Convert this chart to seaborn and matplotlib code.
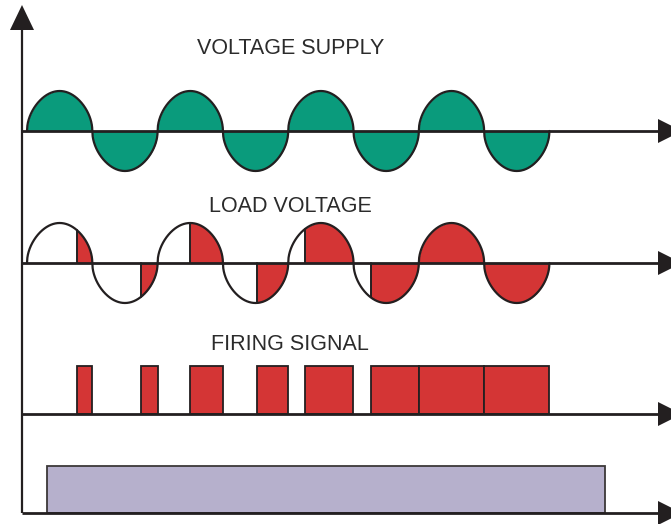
import numpy as np
import pandas as pd
import matplotlib
matplotlib.use("Agg")
import matplotlib.pyplot as plt
from matplotlib.patches import Polygon
import seaborn as sns

# ---------------- data ----------------
half_cycles = np.arange(8)                       # 4 full mains cycles
firing_angles = [138, 135, 90, 94, 47, 47, 0, 0]  # delay (deg) inside each half-cycle
row_labels = ["VOLTAGE SUPPLY", "LOAD VOLTAGE", "FIRING SIGNAL"]
amplitude = 40
pulse_height = 48
enable_window = [55, 1593]                        # deg
enable_level = 47

# ---------------- style ----------------
sns.set_theme(style="white")
plt.rcParams["font.family"] = ["Liberation Sans", "DejaVu Sans"]
dark = "#231f20"
green = "#0a9b7c"
red = "#d43535"
lavender = "#b6b0cc"
shape = 0.5   # drawing style of the hand-drawn (rounded) sine lobes

W, H = 671, 524
px = 180 / 65.3                      # degrees per pixel
x0 = -27 * px
fig = plt.figure(figsize=(W / 100, H / 100), dpi=100)
ax = fig.add_axes([0, 0, 1, 1])
ax.set_xlim(x0, x0 + W * px)
ax.set_ylim(0, H)
ax.axis("off")

base_supply, base_load, base_fire, base_bottom = 393, 261, 110, 11
axis_x = x0 + 22 * px
arrow_x = x0 + 658 * px


def lobe(th):
    s = np.sin(np.radians(th))
    return amplitude * np.sign(s) * np.abs(s) ** shape


# axes with arrows
ax.plot([axis_x, axis_x], [base_bottom, 500], color=dark, lw=1.6, solid_capstyle="butt")
ax.add_patch(Polygon([[axis_x - 12 * px, 494], [axis_x + 12 * px, 494], [axis_x, 519]],
                     closed=True, color=dark, lw=0))
for b in (base_supply, base_load, base_fire, base_bottom):
    ax.plot([axis_x, arrow_x + 2 * px], [b, b], color=dark, lw=2.0, solid_capstyle="butt", zorder=4)
    ax.add_patch(Polygon([[arrow_x, b - 12], [arrow_x, b + 12], [arrow_x + 24 * px, b]],
                         closed=True, color=dark, lw=0, zorder=4))

# supply voltage
theta = np.linspace(0, 180 * len(half_cycles), 2881)
wave = lobe(theta)
ax.fill_between(theta, base_supply, base_supply + wave, color=green, lw=0, zorder=2)
sns.lineplot(x=theta, y=base_supply + wave, ax=ax, color=dark, lw=1.6,
             sort=False, estimator=None, zorder=3)

# load voltage
for k, f in zip(half_cycles, firing_angles):
    th = np.linspace(k * 180 + f, (k + 1) * 180, 400)
    v = lobe(th)
    ax.fill_between(th, base_load, base_load + v, color=red, lw=0, zorder=2)
    if f > 0:
        ax.plot([th[0], th[0]], [base_load, base_load + v[0]], color=dark, lw=1.4, zorder=3)
sns.lineplot(x=theta, y=base_load + wave, ax=ax, color=dark, lw=1.6,
             sort=False, estimator=None, zorder=3)

# firing signal
starts = [k * 180 + f for k, f in zip(half_cycles, firing_angles)]
widths = [180 - f for f in firing_angles]
ax.bar(starts, [pulse_height] * len(starts), width=widths, bottom=base_fire, align="edge",
       color=red, edgecolor=dark, lw=1.3, zorder=3)

# enable window
ax.bar([enable_window[0]], [enable_level], width=[enable_window[1] - enable_window[0]],
       bottom=base_bottom, align="edge", color=lavender, edgecolor="#3c3838", lw=1.3, zorder=3)

# labels
centre = 90 * len(half_cycles)
for lab, y in zip(row_labels, (476, 317, 179)):
    ax.text(centre + 2 * px, y, lab, ha="center", va="center", fontsize=15.5, color="#2b2b2b")

fig.savefig("out.png", dpi=100)
